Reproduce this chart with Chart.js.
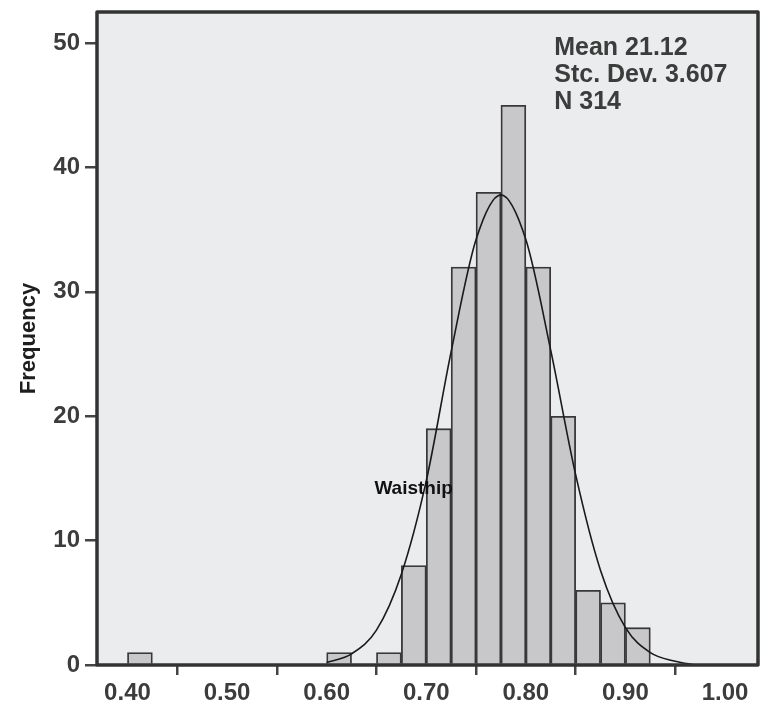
<!DOCTYPE html>
<html>
<head>
<meta charset="utf-8">
<script src="https://cdn.jsdelivr.net/npm/chart.js@4/dist/chart.umd.min.js"></script>
<style>
  html, body { margin: 0; padding: 0; background: #fff; }
  #wrap { width: 783px; height: 727px; }
</style>
</head>
<body>
<div id="wrap"><canvas id="histChart" width="783" height="727"></canvas></div>
<script>
// histogram bins (width 0.025), centres and counts
const binCenters = [0.4125, 0.6125, 0.6625, 0.6875, 0.7125, 0.7375, 0.7625, 0.7875, 0.8125, 0.8375, 0.8625, 0.8875, 0.9125];
const binCounts = [1, 1, 1, 8, 19, 32, 38, 45, 32, 20, 6, 5, 3];

// fitted curve, points
const curveX = [0.60, 0.625, 0.65, 0.675, 0.70, 0.725, 0.75, 0.775, 0.80, 0.825, 0.85, 0.875, 0.90, 0.925, 0.95, 0.97];
const curveY = [0.2, 0.9, 2.8, 7.3, 14.8, 25.2, 34.2, 37.8, 34.2, 25.3, 15.3, 7.6, 3.0, 1.0, 0.3, 0.0];

// axis ticks
const xTickValues = [0.40, 0.50, 0.60, 0.70, 0.80, 0.90, 1.00];
const xTickLabels = ['0.40', '0.50', '0.60', '0.70', '0.80', '0.90', '1.00'];
const yTickValues = [0, 10, 20, 30, 40, 50];
const yTickLabels = ['0', '10', '20', '30', '40', '50'];

const statLines = ['Mean 21.12', 'Stc. Dev. 3.607', 'N 314'];
const varLabel = 'Waisthip';

const FONT = "'Liberation Sans', Arial, sans-serif";

// grey plot background + dark frame + texts
const framePlugin = {
    id: 'frame',
    beforeDatasetsDraw(chart) {
        const a = chart.chartArea;
        const c = chart.ctx;
        c.save();
        c.fillStyle = '#ebeced';
        c.fillRect(a.left, a.top, a.right - a.left, a.bottom - a.top);
        c.restore();
    },
    afterDatasetsDraw(chart) {
        const a = chart.chartArea;
        const c = chart.ctx;
        const xs = chart.scales.x, ys = chart.scales.y;
        c.save();
        c.strokeStyle = '#333';
        c.lineWidth = 3.5;
        c.lineJoin = 'round';
        c.strokeRect(a.left, a.top, a.right - a.left, a.bottom - a.top);

        // stats box text
        c.fillStyle = '#3c3c3c';
        c.font = 'bold 25px ' + FONT;
        c.textBaseline = 'middle';
        c.textAlign = 'left';
        const sx = xs.getPixelForValue(0.8285);
        statLines.forEach((t, i) => {
            c.fillText(t, sx, ys.getPixelForValue(49.6) + i * 27);
        });

        // variable label
        c.fillStyle = '#111';
        c.font = 'bold 19px ' + FONT;
        c.textAlign = 'center';
        c.fillText(varLabel, xs.getPixelForValue(0.6873), ys.getPixelForValue(14.15));
        c.restore();
    }
};

const ctx = document.getElementById('histChart').getContext('2d');
const histChart = new Chart(ctx, {
    type: 'bar',
    data: {
        datasets: [{
            type: 'line',
            data: curveX.map((x, i) => ({ x: x, y: curveY[i] })),
            borderColor: '#1a1a1a',
            borderWidth: 1.6,
            pointRadius: 0,
            fill: false,
            cubicInterpolationMode: 'monotone',
            order: 0
        }, {
            type: 'bar',
            data: binCenters.map((x, i) => ({ x: x, y: binCounts[i] })),
            backgroundColor: '#c8c8cb',
            borderColor: '#383838',
            borderWidth: 1.8,
            barPercentage: 1,
            categoryPercentage: 1,
            order: 1
        }]
    },
    options: {
        responsive: false,
        animation: false,
        layout: { padding: { top: 12, right: 25, left: 0, bottom: 0 } },
        plugins: {
            legend: { display: false },
            tooltip: { enabled: false }
        },
        scales: {
            x: {
                type: 'linear',
                min: 0.3694,
                max: 1.0331,
                offset: false,
                afterBuildTicks: s => { s.ticks = xTickValues.map(v => ({ value: v })); },
                afterFit: s => { s.height = 62; s.paddingLeft = 0; s.paddingRight = 0; },
                ticks: {
                    callback: (v, i) => xTickLabels[i],
                    color: '#3c3c3c',
                    font: { family: FONT, size: 24, weight: 'bold' },
                    padding: 4,
                    maxRotation: 0
                },
                grid: { drawOnChartArea: false, drawTicks: true, tickLength: 10, color: '#444', lineWidth: 2.5 },
                border: { display: false }
            },
            y: {
                min: 0,
                max: 52.5,
                afterBuildTicks: s => { s.ticks = yTickValues.map(v => ({ value: v })); },
                afterFit: s => { s.width = 97; s.paddingTop = 0; s.paddingBottom = 0; },
                ticks: {
                    callback: (v, i) => yTickLabels[i],
                    color: '#3c3c3c',
                    font: { family: FONT, size: 24, weight: 'bold' },
                    padding: 5
                },
                grid: { drawOnChartArea: false, drawTicks: true, tickLength: 12, color: '#444', lineWidth: 2.5 },
                border: { display: false },
                title: {
                    display: true,
                    text: 'Frequency',
                    color: '#1e1e1e',
                    font: { family: FONT, size: 22, weight: 'bold' },
                    padding: { top: 16, bottom: 0 }
                }
            }
        }
    },
    plugins: [framePlugin]
});
</script>
</body>
</html>
